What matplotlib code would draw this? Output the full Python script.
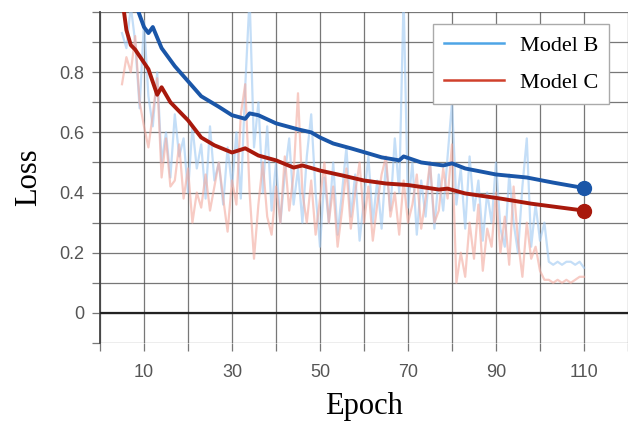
import matplotlib.pyplot as plt
import numpy as np
from matplotlib.lines import Line2D


# raw (noisy) losses, one value per epoch from 5 to 110
epochs = list(range(5, 111))
raw_b = [
    0.93, 0.88, 1.02, 0.90, 0.68, 0.97, 0.72, 0.62, 0.80, 0.50,
    0.60, 0.45, 0.66, 0.52, 0.58, 0.40, 0.62, 0.48, 0.56, 0.38,
    0.62, 0.44, 0.50, 0.36, 0.55, 0.42, 0.60, 0.38, 0.75, 1.05,
    0.55, 0.70, 0.40, 0.62, 0.34, 0.50, 0.30, 0.46, 0.58, 0.36,
    0.48, 0.30, 0.52, 0.66, 0.40, 0.22, 0.45, 0.30, 0.50, 0.26,
    0.40, 0.55, 0.32, 0.46, 0.24, 0.38, 0.52, 0.30, 0.44, 0.28,
    0.50, 0.34, 0.58, 0.40, 1.05, 0.35, 0.50, 0.26, 0.44, 0.32,
    0.50, 0.28, 0.46, 0.34, 0.52, 0.70, 0.36, 0.48, 0.28, 0.52,
    0.34, 0.44, 0.24, 0.40, 0.30, 0.50, 0.28, 0.22, 0.46, 0.30,
    0.20, 0.42, 0.58, 0.22, 0.36, 0.24, 0.30, 0.17, 0.16, 0.17,
    0.16, 0.17, 0.17, 0.16, 0.17, 0.15,
]
raw_c = [
    0.76, 0.85, 0.80, 0.92, 0.70, 0.62, 0.55, 0.66, 0.78, 0.45,
    0.58, 0.42, 0.44, 0.56, 0.38, 0.48, 0.30, 0.40, 0.35, 0.46,
    0.34, 0.42, 0.50, 0.38, 0.27, 0.44, 0.36, 0.66, 0.76, 0.40,
    0.18, 0.36, 0.50, 0.32, 0.26, 0.42, 0.30, 0.52, 0.34, 0.46,
    0.73, 0.40, 0.30, 0.44, 0.26, 0.38, 0.50, 0.30, 0.42, 0.22,
    0.34, 0.48, 0.28, 0.40, 0.50, 0.30, 0.42, 0.24, 0.36, 0.46,
    0.52, 0.32, 0.40, 0.26, 0.44, 0.30, 0.36, 0.46, 0.28, 0.38,
    0.50, 0.30, 0.34, 0.48, 0.38, 0.56, 0.10, 0.20, 0.12, 0.30,
    0.18, 0.36, 0.14, 0.28, 0.22, 0.40, 0.20, 0.32, 0.16, 0.42,
    0.24, 0.12, 0.30, 0.18, 0.22, 0.14, 0.11, 0.11, 0.10, 0.11,
    0.10, 0.11, 0.10, 0.11, 0.12, 0.12,
]

# smoothed curves
smooth_b_epochs = [7.5, 10, 11, 12, 14, 17, 20, 23, 27, 30, 33, 34, 36, 40, 45, 48,
                   50, 53, 57, 61, 64, 68, 69, 73, 78, 80, 83, 90, 97, 103, 110]
smooth_b = [1.05, 0.95, 0.93, 0.95, 0.88, 0.82, 0.77, 0.72, 0.685, 0.657, 0.645,
            0.663, 0.657, 0.63, 0.61, 0.60, 0.583, 0.563, 0.547, 0.53, 0.517,
            0.507, 0.52, 0.50, 0.49, 0.497, 0.48, 0.46, 0.45, 0.433, 0.415]
smooth_c_epochs = [5, 6, 7, 8, 11, 13, 14, 16, 20, 23, 26, 30, 33, 36, 40, 44,
                   46, 50, 55, 60, 65, 70, 77, 79, 83, 91, 98, 110]
smooth_c = [1.05, 0.94, 0.89, 0.875, 0.81, 0.725, 0.75, 0.70, 0.64, 0.583, 0.557,
            0.533, 0.547, 0.523, 0.507, 0.483, 0.49, 0.473, 0.457, 0.44, 0.43,
            0.425, 0.41, 0.413, 0.397, 0.38, 0.363, 0.34]

x_ticks = list(range(0, 121, 10))
x_labels = ["" if t % 20 == 0 else str(t) for t in x_ticks]
y_ticks = [round(v, 1) for v in np.arange(-0.1, 1.01, 0.1)]
y_labels = ["0" if v == 0 else (f"{v:.1f}" if (round(v * 10) % 2 == 0 and 0 < v < 1) else "")
            for v in y_ticks]

fig = plt.figure(figsize=(6.28, 4.28), dpi=100)
ax = fig.add_axes([100 / 628, 85 / 428, 528 / 628, 331 / 428])

ax.plot(epochs, raw_b, color="#9ec8f2", lw=1.6, alpha=0.6, zorder=2)
ax.plot(epochs, raw_c, color="#f2a99e", lw=1.6, alpha=0.6, zorder=2)
ax.plot(smooth_b_epochs, smooth_b, color="#1a56a8", lw=2.8, zorder=4,
        marker="o", markevery=[len(smooth_b) - 1], markersize=10)
ax.plot(smooth_c_epochs, smooth_c, color="#a8190c", lw=2.8, zorder=4,
        marker="o", markevery=[len(smooth_c) - 1], markersize=10)
ax.axhline(0, color="#222222", lw=1.6, zorder=3)

ax.set_xlim(0, 120)
ax.set_ylim(-0.1, 1.0)
ax.set_xticks(x_ticks)
ax.set_xticklabels(x_labels)
ax.set_yticks(y_ticks)
ax.set_yticklabels(y_labels)
ax.grid(True, color="#555555", lw=0.9, alpha=0.8, zorder=1)
ax.set_axisbelow(True)

for side in ["top", "right", "bottom"]:
    ax.spines[side].set_visible(False)
ax.spines["left"].set_color("#444444")
ax.spines["left"].set_linewidth(1.3)
ax.tick_params(axis="both", colors="#777777", labelcolor="#555555", labelsize=13,
               length=6, width=0.9)
ax.tick_params(axis="x", pad=9)
ax.tick_params(axis="y", pad=5)
for lbl in ax.get_xticklabels() + ax.get_yticklabels():
    lbl.set_family("Liberation Sans")

ax.set_xlabel("Epoch", family="Liberation Serif", fontsize=22, labelpad=8)
ax.set_ylabel("Loss", family="Liberation Serif", fontsize=22, labelpad=12)

handles = [Line2D([], [], color="#4ea5e6", lw=1.8),
           Line2D([], [], color="#d0402c", lw=1.8)]
leg = ax.legend(handles, ["Model B", "Model C"], loc="upper right",
                bbox_to_anchor=(0.964, 0.964), borderaxespad=0,
                prop={"family": "Liberation Serif", "size": 16},
                fancybox=False, framealpha=1, edgecolor="#aaaaaa", handlelength=2.7,
                labelspacing=0.75, borderpad=0.5, handletextpad=0.7)
leg.set_zorder(6)

fig.savefig("out.png", dpi=100)
